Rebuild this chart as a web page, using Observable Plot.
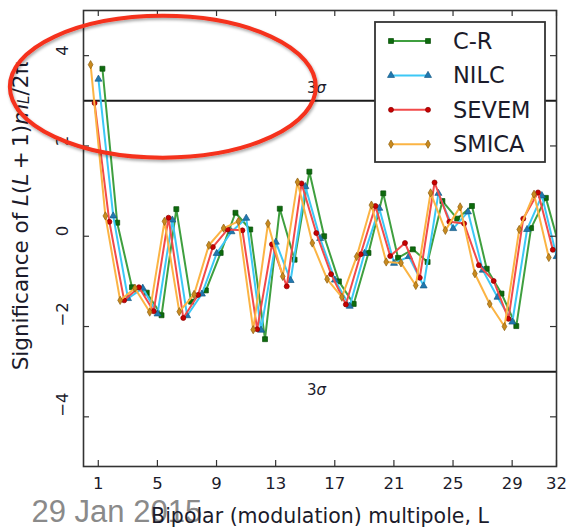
<!DOCTYPE html>
<html>
<head>
<meta charset="utf-8">
<script src="https://cdn.jsdelivr.net/npm/d3@7"></script>
<script src="https://cdn.jsdelivr.net/npm/@observablehq/plot@0.6"></script>
<style>
  html, body { margin: 0; padding: 0; background: #fff; }
  #chart { width: 570px; height: 530px; }
</style>
</head>
<body>
<div id="chart"></div>
<script>
// Bipolar (modulation) multipoles
const multipoles = [1, 2, 3, 4, 5, 6, 7, 8, 9, 10, 11, 12, 13, 14, 15, 16,
                    17, 18, 19, 20, 21, 22, 23, 24, 25, 26, 27, 28, 29, 30, 31, 32];

// Significance of L(L+1) m_L / 2pi, one list per component-separation map
const crValues    = [3.71, 0.30, -1.13, -1.25, -1.75, 0.60, -1.45, -1.20, -0.37, 0.52, 0.15, -2.28, 0.61, -0.52, 1.43, 0.00,
                     -1.00, -1.50, -0.37, 0.95, -0.48, -0.29, -0.57, 0.78, 0.39, 0.67, -0.72, -1.27, -1.99, 0.18, 0.85, -0.33];
const nilcValues  = [3.48, 0.45, -1.38, -1.15, -1.72, 0.36, -1.76, -1.28, -0.38, 0.10, 0.40, -2.08, -0.13, -0.98, 1.10, -0.05,
                     -0.97, -1.55, -0.38, 0.62, -0.60, -0.45, -1.10, 0.95, 0.17, 0.54, -0.75, -1.35, -1.90, 0.15, 0.90, -0.45];
const sevemValues = [2.95, 0.32, -1.42, -1.13, -1.66, 0.41, -1.81, -1.30, -0.24, 0.15, 0.13, -2.06, -0.18, -1.11, 1.17, 0.07,
                     -0.84, -1.51, -0.40, 0.67, -0.44, -0.15, -0.92, 1.19, 0.32, 0.28, -0.64, -0.99, -1.83, 0.39, 0.97, -0.30];
const smicaValues = [3.80, 0.45, -1.42, -1.15, -1.68, 0.33, -1.67, -1.29, -0.20, 0.18, 0.33, -2.07, 0.28, -0.89, 1.20, -0.15,
                     -0.95, -1.35, -0.45, 0.69, -0.57, -0.59, -1.09, 0.96, 0.13, 0.65, -0.83, -1.50, -2.00, 0.15, 0.93, -0.47];

const seriesNames = ["C-R", "NILC", "SEVEM", "SMICA"];
const xTicks = [1, 5, 9, 13, 17, 21, 25, 29, 32];
const yTicks = [-4, -2, 0, 2, 4];
const sigmaLevels = [3, -3];
const dateStamp = "29 Jan 2015";
const xLabel = "Bipolar (modulation) multipole, L";

// ---- layout & styling ----
const W = 570, H = 530;
const margin = {top: 10, right: 14, bottom: 64, left: 83};
const innerW = W - margin.left - margin.right;
const innerH = H - margin.top - margin.bottom;
const tickLen = 6;
const ink = "#1b1b2b";
const frameInk = "#333";

// each map is nudged sideways so the four curves don't sit on top of each other
const seriesStyle = {
  "C-R":   {values: crValues,    shift:  0.28, line: "#3f9f3f", fill: "#0d6b0d", edge: "#0a4f0a", symbol: "square",   r: 2.8},
  "NILC":  {values: nilcValues,  shift:  0.01, line: "#3cc8f6", fill: "#2078b0", edge: "#165a85", symbol: "triangle", r: 2.6},
  "SEVEM": {values: sevemValues, shift: -0.25, line: "#f24a4a", fill: "#c80000", edge: "#8a0000", symbol: "circle",   r: 2.5},
  "SMICA": {values: smicaValues, shift: -0.52, line: "#fbb444", fill: "#c98a1e", edge: "#8e6010", symbol: "diamond",  r: 2.5}
};

const rows = seriesNames.flatMap(name =>
  seriesStyle[name].values.map((v, i) => ({series: name, L: multipoles[i] + seriesStyle[name].shift, value: v}))
);

const seriesMarks = seriesNames.flatMap(name => {
  const s = seriesStyle[name];
  const d = rows.filter(r => r.series === name);
  return [
    Plot.line(d, {x: "L", y: "value", stroke: s.line, strokeWidth: 2, clip: true}),
    Plot.dot(d, {x: "L", y: "value", symbol: s.symbol, r: s.r, fill: s.fill, stroke: s.edge, strokeWidth: 0.7, clip: true})
  ];
});

const minus = d => d < 0 ? "\u2212" + Math.abs(d) : String(d);

const plot = Plot.plot({
  width: W,
  height: H,
  marginTop: margin.top,
  marginRight: margin.right,
  marginBottom: margin.bottom,
  marginLeft: margin.left,
  x: {domain: [0, 32], axis: null},
  y: {domain: [-5.1, 5], axis: null},
  style: {fontFamily: "DejaVu Sans, sans-serif", background: "#fff", overflow: "visible"},
  marks: [
    // 3 sigma thresholds
    Plot.ruleY(sigmaLevels, {y: d => d, stroke: "#1a1a1a", strokeWidth: 2}),

    ...seriesMarks,

    // inward ticks on all four sides
    Plot.tickX(xTicks, {x: d => d, insetTop: innerH - tickLen, stroke: frameInk, strokeWidth: 1.2}),
    Plot.tickX(xTicks, {x: d => d, insetBottom: innerH - tickLen, stroke: frameInk, strokeWidth: 1.2}),
    Plot.tickY(yTicks, {y: d => d, insetRight: innerW - tickLen, stroke: frameInk, strokeWidth: 1.2}),
    Plot.tickY(yTicks, {y: d => d, insetLeft: innerW - tickLen, stroke: frameInk, strokeWidth: 1.2}),
    Plot.frame({stroke: frameInk, strokeWidth: 1.6}),

    // tick labels
    Plot.text(xTicks, {x: d => d, text: d => String(d), frameAnchor: "bottom", dy: 22, fontSize: 16.5, fill: ink}),
    Plot.text(yTicks, {y: d => d, text: minus, frameAnchor: "left", dx: -21, rotate: -90, fontSize: 16.5, fill: ink}),

    // date stamp sits underneath the axis title
    Plot.text([dateStamp], {text: d => d, frameAnchor: "bottom-left", dx: -52, dy: 55, textAnchor: "start",
      lineAnchor: "bottom", fontSize: 31, fontFamily: "Liberation Sans, Arial, sans-serif", fill: "#8a8a8a"}),
    Plot.text([xLabel], {text: d => d, frameAnchor: "bottom", dy: 56, lineAnchor: "bottom", fontSize: 20.5, fill: ink})
  ]
});

document.getElementById("chart").appendChild(plot);

const svg = d3.select(plot);
const sx = plot.scale("x"), sy = plot.scale("y");

// "3σ" labels on the threshold lines (italic sigma)
const sigmaText = [{level: 3, dy: -12}, {level: -3, dy: 19}];
sigmaText.forEach(({level, dy}) => {
  const t = svg.append("text")
    .attr("x", margin.left + innerW / 2 - 3)
    .attr("y", sy.apply(level) + dy)
    .attr("text-anchor", "middle")
    .attr("dominant-baseline", "central")
    .attr("font-size", 15)
    .attr("fill", ink);
  t.append("tspan").text(String(Math.abs(level)));
  t.append("tspan").attr("font-style", "italic").text("σ");
});

// y-axis title with math-style italics and subscript
const yTitle = svg.append("text")
  .attr("transform", "translate(20,216) rotate(-90)")
  .attr("text-anchor", "middle")
  .attr("dominant-baseline", "central")
  .attr("font-size", 21.5)
  .attr("fill", ink);
yTitle.append("tspan").text("Significance of ");
yTitle.append("tspan").attr("font-style", "italic").text("L");
yTitle.append("tspan").text("(");
yTitle.append("tspan").attr("font-style", "italic").text("L");
yTitle.append("tspan").text("\u2009+\u20091)");
yTitle.append("tspan").attr("font-style", "italic").text("m");
yTitle.append("tspan").attr("font-style", "italic").attr("font-size", 15).attr("dy", 4).text("L");
yTitle.append("tspan").attr("dy", -4).text("/2π");

// legend box, top right
const legend = {x: 375, y: 22, w: 170, h: 140, rowTop: 41, rowGap: 34.4, lineX0: 391, lineX1: 428, textX: 453};
const lg = svg.append("g");
lg.append("rect")
  .attr("x", legend.x).attr("y", legend.y).attr("width", legend.w).attr("height", legend.h)
  .attr("fill", "#fff").attr("stroke", frameInk).attr("stroke-width", 1.8);
const symbolTypes = {square: d3.symbolSquare, triangle: d3.symbolTriangle, circle: d3.symbolCircle, diamond: d3.symbolDiamond};
seriesNames.forEach((name, i) => {
  const s = seriesStyle[name];
  const cy = legend.rowTop + i * legend.rowGap;
  lg.append("line")
    .attr("x1", legend.lineX0).attr("x2", legend.lineX1).attr("y1", cy).attr("y2", cy)
    .attr("stroke", s.line).attr("stroke-width", 2);
  [legend.lineX0, legend.lineX1].forEach(px => {
    lg.append("path")
      .attr("d", d3.symbol(symbolTypes[s.symbol], Math.PI * s.r * s.r)())
      .attr("transform", `translate(${px},${cy})`)
      .attr("fill", s.fill).attr("stroke", s.edge).attr("stroke-width", 0.7);
  });
  lg.append("text")
    .attr("x", legend.textX).attr("y", cy)
    .attr("text-anchor", "start")
    .attr("dominant-baseline", "central")
    .attr("font-size", 22.5)
    .attr("fill", ink)
    .text(name);
});

// red highlight ellipse around the low-L excess, placed in data coordinates
const highlight = {L: 5.4, value: 3.3, halfWidthL: 10.35, halfHeight: 1.57};
const defs = svg.append("defs");
const shadow = defs.append("filter").attr("id", "ring-shadow").attr("x", "-20%").attr("y", "-20%")
  .attr("width", "140%").attr("height", "140%");
shadow.append("feDropShadow").attr("dx", 1).attr("dy", 2).attr("stdDeviation", 1.6)
  .attr("flood-color", "#000").attr("flood-opacity", 0.35);
const cx = sx.apply(highlight.L), cy = sy.apply(highlight.value);
svg.append("ellipse")
  .attr("cx", cx).attr("cy", cy)
  .attr("rx", sx.apply(highlight.L + highlight.halfWidthL) - cx)
  .attr("ry", cy - sy.apply(highlight.value + highlight.halfHeight))
  .attr("fill", "none")
  .attr("stroke", "#f5301e")
  .attr("stroke-width", 4)
  .attr("filter", "url(#ring-shadow)");
</script>
</body>
</html>
